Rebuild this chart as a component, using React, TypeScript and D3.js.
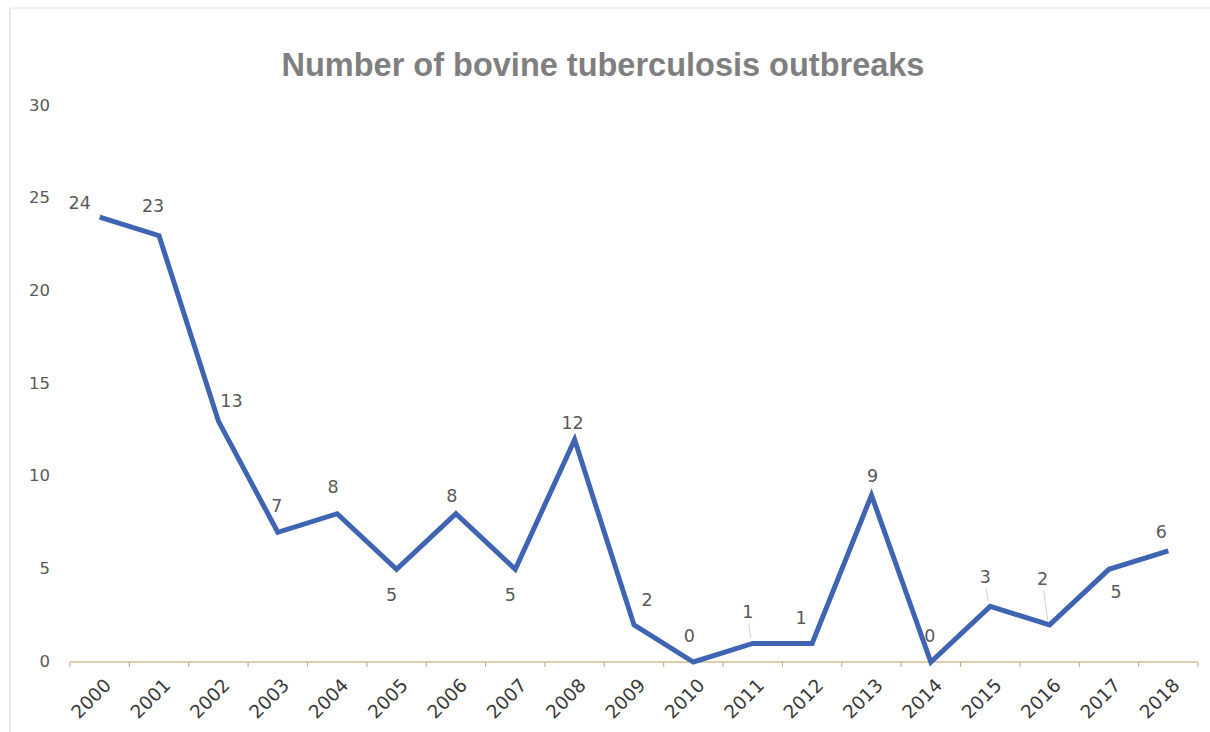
import React from "react";
import * as d3 from "d3";

const years = ["2000","2001","2002","2003","2004","2005","2006","2007","2008","2009","2010","2011","2012","2013","2014","2015","2016","2017","2018"];
const outbreaks = [24, 23, 13, 7, 8, 5, 8, 5, 12, 2, 0, 1, 1, 9, 0, 3, 2, 5, 6];
const yTicks = [0, 5, 10, 15, 20, 25, 30];
const title = "Number of bovine tuberculosis outbreaks";

// label placement offsets (style only)
const labelOffsets: [number, number][] = [
  [-20, -13], [-6, -29], [13, -19], [-1, -25], [-4, -26], [-5, 27], [-4, -17], [-5, 27],
  [-2, -16], [13, -24], [-4, -25], [-5, -30], [-11, -24], [1, -18], [-1, -25], [-5, -28],
  [-7, -45], [7, 24], [-7, -18],
];
const leaderIdx = [11, 15, 16];

export default function App() {
  const W = 1210, H = 732;
  const x = d3.scaleBand<string>().domain(years).range([70, 1198]).padding(0);
  const y = d3.scaleLinear().domain([0, 30]).range([662, 106]);
  const cx = (d: string) => (x(d) as number) + x.bandwidth() / 2;
  const line = d3.line<number>().x((_, i) => cx(years[i])).y((v) => y(v));
  const bounds = years.map((d) => x(d) as number).concat([1198]);
  const titleFont = "'Liberation Sans', Arial, sans-serif";
  const font = "'DejaVu Sans', sans-serif";
  return (
    <svg width={W} height={H} style={{ position: "absolute", left: 0, top: 0, background: "#fff" }}>
      <rect x={0} y={0} width={W} height={H} fill="#fff" />
      <line x1={10} y1={8} x2={10} y2={H} stroke="#e2e2e2" strokeWidth={1.5} />
      <line x1={10} y1={8} x2={W} y2={8} stroke="#eeeeee" strokeWidth={1.5} />
      <text x={603} y={76} textAnchor="middle" fontFamily={titleFont} fontWeight="bold" fontSize={32.5} fill="#7f7f7f">{title}</text>
      {yTicks.map((t) => (
        <text key={t} x={50} y={y(t)} textAnchor="end" dominantBaseline="middle" fontFamily={font} fontSize={16.5} fill="#595959">{t}</text>
      ))}
      <line x1={70} x2={1198} y1={y(0)} y2={y(0)} stroke="#d4bc96" strokeWidth={1.5} />
      {bounds.map((b, i) => (
        <line key={i} x1={b} x2={b} y1={y(0)} y2={y(0) + 5} stroke="#c9b08a" strokeWidth={1.2} />
      ))}
      {years.map((d) => (
        <text key={d} transform={`translate(${cx(d) + 9},${683}) rotate(-45)`} textAnchor="end" dominantBaseline="middle" fontFamily={font} fontSize={18.5} fill="#3a3a3a">{d}</text>
      ))}
      <path d={line(outbreaks) || ""} fill="none" stroke="#3f64b2" strokeWidth={5} strokeLinejoin="miter" />
      {leaderIdx.map((i) => {
        const px = cx(years[i]), py = y(outbreaks[i]);
        const [dx, dy] = labelOffsets[i];
        return <line key={"l" + i} x1={px + dx + 1} y1={py + dy + 10} x2={px - 2} y2={py - 5} stroke="#d0d0d0" strokeWidth={1} />;
      })}
      {outbreaks.map((v, i) => {
        const [dx, dy] = labelOffsets[i];
        return (
          <text key={i} x={cx(years[i]) + dx} y={y(v) + dy} textAnchor="middle" dominantBaseline="middle" fontFamily={font} fontSize={17.5} fill="#595959">{v}</text>
        );
      })}
    </svg>
  );
}
